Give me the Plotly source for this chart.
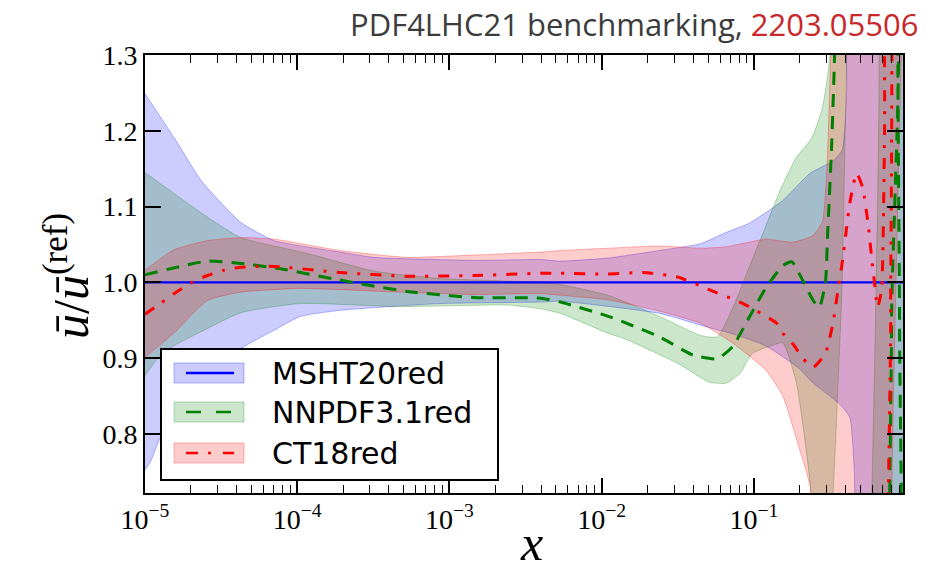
import plotly.graph_objects as go

# ---------------------------------------------------------------
# Ratio ubar / ubar(ref) for three reduced PDF sets (log10 x grids)
# ---------------------------------------------------------------

# MSHT20red (reference set, central = 1)
msht_central_logx = [-5.0, -0.02]
msht_central = [1.0, 1.0]
msht_upper_logx = [-5.0, -4.80, -4.63, -4.37, -4.15, -3.72, -3.50, -2.84, -2.40, -2.27,
                   -1.96, -1.62, -1.35, -1.18, -1.03, -0.81, -0.63, -0.48, -0.42, -0.39,
                   -0.37, -0.02]
msht_upper = [1.249, 1.188, 1.134, 1.079, 1.055, 1.040, 1.033, 1.029, 1.030, 1.028,
              1.032, 1.042, 1.051, 1.066, 1.078, 1.108, 1.144, 1.160, 1.174, 1.250,
              2.000, 2.000]
msht_lower_logx = [-5.0, -4.96, -4.90, -4.63, -4.39, -4.15, -3.98, -3.72, -3.06, -2.40,
                   -2.27, -1.62, -1.29, -1.14, -0.92, -0.70, -0.61, -0.44, -0.37, -0.34,
                   -0.32, -0.02]
msht_lower = [0.752, 0.765, 0.794, 0.860, 0.910, 0.937, 0.955, 0.963, 0.972, 0.974,
              0.975, 0.959, 0.940, 0.932, 0.916, 0.886, 0.867, 0.840, 0.822, 0.750,
              0.500, 0.000]

# NNPDF3.1red
nnpdf_central_logx = [-5.0, -4.59, -4.37, -4.11, -3.72, -3.28, -2.84, -2.40, -2.27, -1.94,
                      -1.62, -1.40, -1.24, -1.14, -1.03, -0.92, -0.81, -0.75, -0.68, -0.61,
                      -0.57, -0.53, -0.515, -0.49, -0.47, -0.45, -0.10, -0.095, -0.09,
                      -0.048, -0.043, -0.038, -0.02]
nnpdf_central = [1.010, 1.028, 1.025, 1.018, 1.003, 0.988, 0.980, 0.979, 0.974, 0.954,
                 0.928, 0.904, 0.899, 0.915, 0.954, 0.993, 1.022, 1.027, 1.003, 0.976,
                 0.967, 0.999, 1.065, 1.174, 1.296, 1.500, 1.500, 0.950, 0.400,
                 0.400, 0.950, 1.500, 1.500]
nnpdf_upper_logx = [-5.0, -4.59, -4.37, -3.93, -3.50, -3.06, -2.40, -2.27, -1.96, -1.62,
                    -1.35, -1.24, -1.13, -1.03, -0.93, -0.83, -0.72, -0.62, -0.55, -0.50,
                    -0.47, -0.02]
nnpdf_upper = [1.145, 1.086, 1.059, 1.038, 1.015, 1.005, 1.000, 0.997, 0.983, 0.955,
               0.930, 0.928, 0.970, 1.020, 1.070, 1.120, 1.165, 1.190, 1.230, 1.300,
               2.000, 2.000]
nnpdf_lower_logx = [-5.0, -4.88, -4.63, -4.37, -3.98, -3.32, -2.62, -2.40, -2.27, -1.96,
                    -1.83, -1.50, -1.29, -1.18, -1.09, -1.01, -0.92, -0.81, -0.72, -0.63,
                    -0.59, -0.55, -0.51, -0.48, -0.45, -0.42, -0.39, -0.37, -0.22, -0.21,
                    -0.02]
nnpdf_lower = [0.877, 0.908, 0.935, 0.960, 0.972, 0.968, 0.970, 0.965, 0.959, 0.933,
               0.924, 0.893, 0.868, 0.867, 0.880, 0.906, 0.914, 0.920, 0.867, 0.735,
               0.600, 0.550, 0.650, 0.720, 0.850, 1.000, 1.300, 1.500, 1.500, 0.000,
               0.000]

# CT18red
ct18_central_logx = [-5.0, -4.90, -4.81, -4.70, -4.59, -4.48, -4.37, -4.15, -3.72, -3.28,
                     -2.84, -2.40, -2.27, -1.96, -1.73, -1.50, -1.29, -1.07, -0.85, -0.81,
                     -0.74, -0.68, -0.61, -0.53, -0.48, -0.45, -0.42, -0.39, -0.37, -0.325,
                     -0.285, -0.25, -0.226, -0.207, -0.187, -0.161, -0.141, -0.128, -0.11,
                     -0.101, -0.092, -0.02]
ct18_central = [0.958, 0.972, 0.985, 0.999, 1.009, 1.016, 1.020, 1.021, 1.013, 1.008,
                1.009, 1.012, 1.012, 1.011, 1.013, 1.007, 0.990, 0.972, 0.946, 0.933,
                0.918, 0.900, 0.888, 0.906, 0.946, 0.986, 1.025, 1.073, 1.104, 1.144,
                1.125, 1.078, 1.033, 0.999, 0.967, 0.990, 1.200, 1.450, 1.450,
                0.950, 0.450, 0.450]
ct18_upper_logx = [-5.0, -4.81, -4.59, -4.37, -4.15, -3.72, -3.28, -2.84, -2.40, -2.27,
                   -1.96, -1.62, -1.35, -1.18, -0.92, -0.74, -0.61, -0.55, -0.52, -0.49,
                   -0.47, -0.085, -0.075, -0.02]
ct18_upper = [1.016, 1.043, 1.055, 1.059, 1.057, 1.042, 1.033, 1.036, 1.040, 1.042,
              1.045, 1.048, 1.045, 1.047, 1.057, 1.053, 1.062, 1.080, 1.150, 1.350,
              2.000, 2.000, 0.600, 0.600]
ct18_lower_logx = [-5.0, -4.81, -4.59, -4.37, -3.98, -3.32, -2.84, -2.40, -2.27, -1.96,
                   -1.62, -1.35, -1.14, -0.92, -0.81, -0.70, -0.63, -0.57, -0.02]
ct18_lower = [0.901, 0.933, 0.976, 0.987, 0.992, 0.987, 0.984, 0.985, 0.983, 0.977,
              0.962, 0.946, 0.920, 0.884, 0.850, 0.780, 0.730, 0.500, 0.000]

# axis ticks
x_tick_exponents = [-5, -4, -3, -2, -1]
y_tick_values = [0.8, 0.9, 1.0, 1.1, 1.2, 1.3]
y_tick_labels = ["0.8", "0.9", "1.0", "1.1", "1.2", "1.3"]

legend_labels = ["MSHT20red", "NNPDF3.1red", "CT18red"]

# ---------------------------------------------------------------
BLUE, GREEN, RED = "#0000ff", "#008000", "#ff0000"
FILL = {"b": "rgba(0,0,255,0.2)", "g": "rgba(0,128,0,0.2)", "r": "rgba(255,0,0,0.2)"}
EDGE = {"b": "rgba(0,0,255,0.28)", "g": "rgba(0,128,0,0.28)", "r": "rgba(255,0,0,0.28)"}
SERIF = "Liberation Serif"
SMOOTH = 0.5


def lin(logs):
    return [10 ** v for v in logs]


def band(lo_lx, lo, up_lx, up, key):
    xs = lin(lo_lx) + lin(up_lx)[::-1]
    ys = list(lo) + list(up)[::-1]
    return go.Scatter(x=xs, y=ys, mode="lines", fill="toself", fillcolor=FILL[key],
                      line=dict(color=EDGE[key], width=1, shape="spline",
                                smoothing=SMOOTH),
                      hoverinfo="skip", showlegend=False)


def central(lx, vals, color, width, dash):
    return go.Scatter(x=lin(lx), y=vals, mode="lines",
                      line=dict(color=color, width=width, dash=dash, shape="spline",
                                smoothing=SMOOTH),
                      showlegend=False)


fig = go.Figure()
fig.add_trace(band(msht_lower_logx, msht_lower, msht_upper_logx, msht_upper, "b"))
fig.add_trace(band(nnpdf_lower_logx, nnpdf_lower, nnpdf_upper_logx, nnpdf_upper, "g"))
fig.add_trace(band(ct18_lower_logx, ct18_lower, ct18_upper_logx, ct18_upper, "r"))

fig.add_trace(central(msht_central_logx, msht_central, BLUE, 2.2, "solid"))
fig.add_trace(central(nnpdf_central_logx, nnpdf_central, GREEN, 3, "13px,9px"))
fig.add_trace(central(ct18_central_logx, ct18_central, RED, 3, "11px,10px,3px,10px"))

# ---------------------------------------------------------------
W, H = 937, 574
L, R, T, B = 145, 34, 55, 81
PW, PH = W - L - R, H - T - B


def px(xp):
    return (xp - L) / PW


def py(yp):
    return (H - B - yp) / PH


major_x = [10.0 ** e for e in x_tick_exponents]
minor_x = [m * 10.0 ** e for e in x_tick_exponents for m in range(2, 10)]
tick_font = dict(family=SERIF, size=28, color="black")

fig.update_xaxes(
    type="log", range=[-5, -0.02],
    tickmode="array", tickvals=major_x,
    ticktext=[f"10<sup>\u2212{-e}</sup>" for e in x_tick_exponents],
    ticks="inside", ticklen=15, tickwidth=1.5, tickcolor="black",
    minor=dict(tickmode="array", tickvals=minor_x, ticks="inside", ticklen=8,
               tickwidth=1.2, tickcolor="black", showgrid=False),
    showline=True, linecolor="black", linewidth=2, mirror="allticks",
    showgrid=False, zeroline=False, tickfont=tick_font,
)
fig.update_yaxes(
    range=[0.722, 1.3], tickmode="array", tickvals=y_tick_values, ticktext=y_tick_labels,
    ticks="inside", ticklen=16, tickwidth=1.5, tickcolor="black",
    showline=True, linecolor="black", linewidth=2, mirror="allticks",
    showgrid=False, zeroline=False, tickfont=tick_font,
)

annotations = [
    dict(text="PDF4LHC21 benchmarking, <span style='color:#C8282A'>2203.05506</span>",
         xref="paper", yref="paper", x=px(920), y=py(24), xanchor="right",
         yanchor="middle", showarrow=False,
         font=dict(family="Open Sans", size=31, color="#3C3C3C")),
    dict(text="<i>\u016b</i>/<i>\u016b</i><sup>(ref)</sup>", textangle=-90,
         xref="paper", yref="paper", x=px(67), y=py(276), xanchor="center",
         yanchor="middle", showarrow=False,
         font=dict(family=SERIF, size=50, color="black")),
    dict(text="<i>x</i>", xref="paper", yref="paper", x=px(531), y=py(573),
         xanchor="center", yanchor="bottom", showarrow=False,
         font=dict(family=SERIF, size=50, color="black")),
]

# legend box drawn on top of the bands
shapes = [dict(type="rect", xref="paper", yref="paper", x0=px(161), x1=px(498),
               y0=py(480), y1=py(349), fillcolor="white",
               line=dict(color="black", width=2), layer="above")]
rows = [(373, "b", BLUE, "solid"), (412, "g", GREEN, "15px,15px"),
        (453, "r", RED, "12px,10px,3px,12px")]
for (yc, key, col, dash), label in zip(rows, legend_labels):
    shapes.append(dict(type="rect", xref="paper", yref="paper", x0=px(174), x1=px(244),
                       y0=py(yc + 10), y1=py(yc - 10), fillcolor=FILL[key],
                       line=dict(color=EDGE[key], width=1), layer="above"))
    shapes.append(dict(type="line", xref="paper", yref="paper", x0=px(186), x1=px(234),
                       y0=py(yc), y1=py(yc), line=dict(color=col, width=2.5, dash=dash),
                       layer="above"))
    annotations.append(dict(text=label, xref="paper", yref="paper", x=px(270), y=py(yc),
                            xanchor="left", yanchor="middle", showarrow=False,
                            font=dict(family="DejaVu Sans", size=30, color="black")))

fig.update_layout(
    width=W, height=H, margin=dict(l=L, r=R, t=T, b=B),
    paper_bgcolor="white", plot_bgcolor="white", showlegend=False,
    annotations=annotations, shapes=shapes,
)

fig.write_html("out.html")
